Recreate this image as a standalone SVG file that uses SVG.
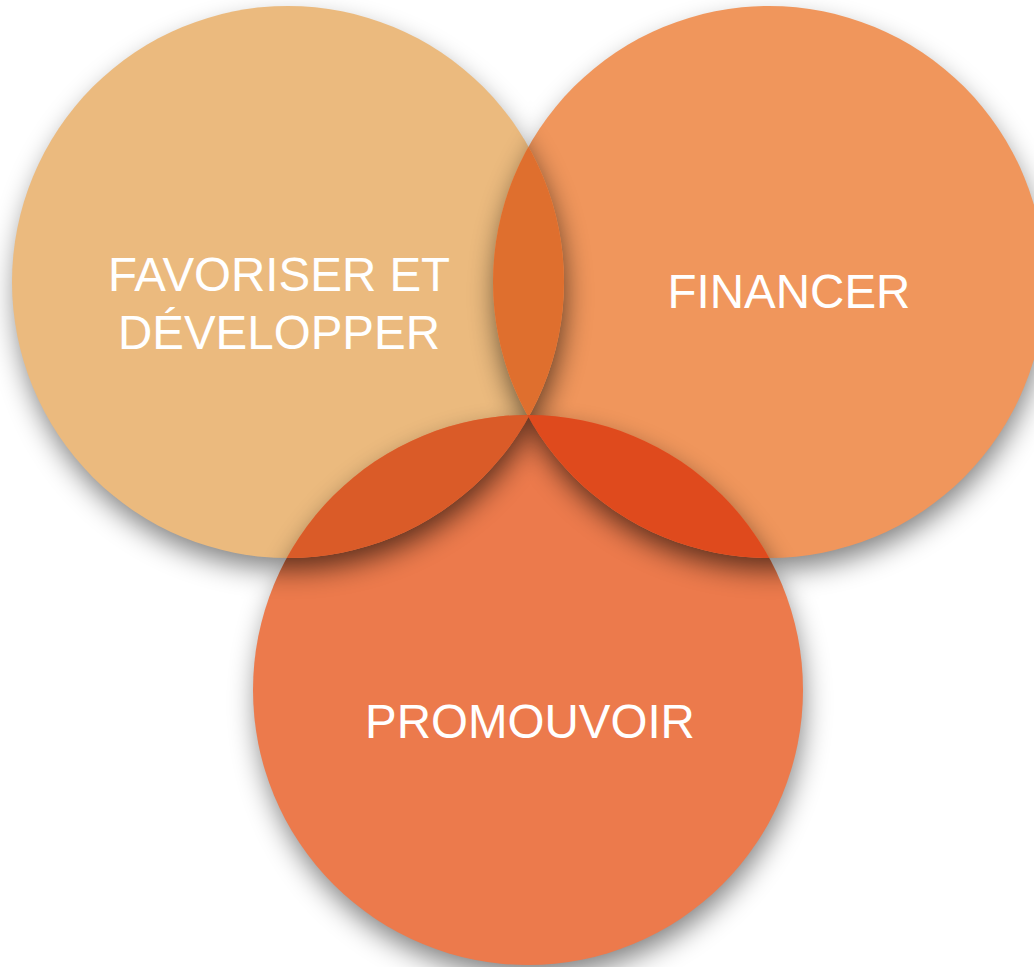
<svg xmlns="http://www.w3.org/2000/svg" xmlns:xlink="http://www.w3.org/1999/xlink" width="1034" height="967" viewBox="0 0 1034 967">
<style>
.lbl{font-family:"Liberation Sans",Arial,sans-serif;font-size:47.5px;fill:#ffffff;text-anchor:middle}
.sh{fill:#000;filter:url(#blur)}
</style>
<defs>
<filter id="blur" x="-20%" y="-20%" width="140%" height="140%"><feGaussianBlur stdDeviation="14"/></filter>
<circle id="k1" cx="288" cy="282" r="276"/>
<circle id="k2" cx="769" cy="282" r="276"/>
<circle id="k3" cx="528" cy="690" r="275"/>
<clipPath id="cp1"><use xlink:href="#k1"/></clipPath>
<clipPath id="cp2"><use xlink:href="#k2"/></clipPath>
<clipPath id="cp3"><use xlink:href="#k3"/></clipPath>
<mask id="m1" maskUnits="userSpaceOnUse" x="0" y="0" width="1034" height="967">
<use xlink:href="#k2" fill="#fff"/><use xlink:href="#k3" fill="#fff"/><use xlink:href="#k1" fill="#000"/>
</mask>
<mask id="m2" maskUnits="userSpaceOnUse" x="0" y="0" width="1034" height="967">
<use xlink:href="#k1" fill="#fff"/><use xlink:href="#k3" fill="#fff"/><use xlink:href="#k2" fill="#000"/>
</mask>
<mask id="m3" maskUnits="userSpaceOnUse" x="0" y="0" width="1034" height="967">
<use xlink:href="#k1" fill="#fff"/><use xlink:href="#k2" fill="#fff"/><use xlink:href="#k3" fill="#000"/>
</mask>
</defs>
<rect width="1034" height="967" fill="#ffffff"/>
<g id="shadows-bg" opacity="0.5">
<circle class="sh" cx="290" cy="295" r="274"/>
<circle class="sh" cx="771" cy="295" r="274"/>
<circle class="sh" cx="530" cy="703" r="273"/>
</g>
<g id="node-favoriser">
<use xlink:href="#k1" fill="#EBBA7E"/>
</g>
<g id="node-financer">
<use xlink:href="#k2" fill="#F0965C"/>
</g>
<g id="node-promouvoir">
<use xlink:href="#k3" fill="#EC7A4C"/>
</g>
<g id="shadows-on-shapes" opacity="0.62">
<g mask="url(#m1)"><circle class="sh" cx="290" cy="295" r="274"/></g>
<g mask="url(#m2)"><circle class="sh" cx="771" cy="295" r="274"/></g>
<g mask="url(#m3)"><circle class="sh" cx="530" cy="703" r="273"/></g>
</g>
<g id="overlaps">
<use xlink:href="#k2" fill="#DF6F2E" clip-path="url(#cp1)"/>
<use xlink:href="#k3" fill="#DA5B28" clip-path="url(#cp1)"/>
<use xlink:href="#k3" fill="#DF4A1D" clip-path="url(#cp2)"/>
</g>
<g id="labels">
<text class="lbl" x="279" y="291">FAVORISER ET</text>
<text class="lbl" x="279" y="349">DÉVELOPPER</text>
<text class="lbl" x="789" y="308">FINANCER</text>
<text class="lbl" x="530" y="738">PROMOUVOIR</text>
</g>
</svg>
